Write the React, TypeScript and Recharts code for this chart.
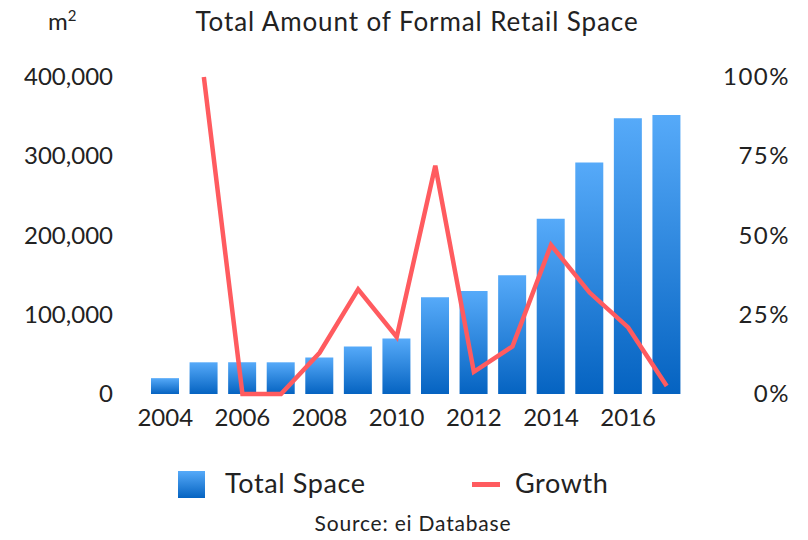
import React from 'react'
import {
    ComposedChart,
    Bar,
    Line,
    XAxis,
    YAxis
} from 'recharts'

const years = ['2004', '2005', '2006', '2007', '2008', '2009', '2010', '2011', '2012', '2013', '2014', '2015', '2016', '2017']
const totalSpace = [20000, 40000, 40000, 40000, 46000, 60000, 70000, 122000, 130000, 150000, 221000, 292000, 348000, 352000]
const growth = [null, 100, 0, 0, 13, 33, 18, 72, 7, 15, 47, 32, 21, 2.5]
const spaceTicks = [0, 100000, 200000, 300000, 400000]
const growthTicks = [0, 25, 50, 75, 100]
const seriesNames = ['Total Space', 'Growth']

const FONT = 'Lato, "Open Sans", sans-serif'
const TEXT = '#222'
const LINE = '#FF5B5F'

const data = years.map((y, i) => ({
    year: y,
    space: totalSpace[i],
    growth: growth[i]
}))

const LeftTick = ({ x, y, payload }: any) => (
    <text x={x - 25} y={y} dy={8} textAnchor="end" fontSize={24} fill={TEXT} fontFamily={FONT}>
        {payload.value === 0 ? '0' : payload.value.toLocaleString('en-US')}
    </text>
)

const RightTick = ({ x, y, payload }: any) => (
    <text x={x + 96} y={y} dy={8} textAnchor="end" fontSize={24} fill={TEXT} fontFamily={FONT} letterSpacing={1.5}>
        {payload.value}%
    </text>
)

const BottomTick = ({ x, y, payload }: any) => (
    <text x={x} y={y} dy={24} textAnchor="middle" fontSize={24} fill={TEXT} fontFamily={FONT}>
        {payload.value}
    </text>
)

export default function App() {
  return (
    <div style={{ position: 'absolute', left: 0, top: 0, width: 808, height: 540, background: '#fff', fontFamily: FONT, color: TEXT }}>
        <div style={{ position: 'absolute', left: 48, top: 6, fontSize: 24 }}>
            m<sup style={{ fontSize: 15 }}>2</sup>
        </div>
        <div style={{ position: 'absolute', left: 0, width: 834, top: 5, textAlign: 'center', fontSize: 26, letterSpacing: 0.9 }}>
            Total Amount of Formal Retail Space
        </div>

        <ComposedChart
        width={808}
        height={540}
        data={data}
        margin={{ top: 77, right: 0, left: 0, bottom: 106 }}
        >
            <defs>
                <linearGradient id="barFill" x1={0} y1={0} x2={0} y2={1}>
                    <stop offset="0%" stopColor="#56AAF9" />
                    <stop offset="100%" stopColor="#0563C1" />
                </linearGradient>
            </defs>

            <XAxis
            dataKey="year"
            height={40}
            axisLine={false}
            tickLine={false}
            interval={1}
            tick={<BottomTick />}
            />

            <YAxis
            yAxisId="left"
            width={146}
            domain={[0, 400000]}
            ticks={spaceTicks}
            axisLine={false}
            tickLine={false}
            tick={<LeftTick />}
            />

            <YAxis
            yAxisId="right"
            orientation="right"
            width={122}
            domain={[0, 100]}
            ticks={growthTicks}
            axisLine={false}
            tickLine={false}
            tick={<RightTick />}
            />

            <Bar
            yAxisId="left"
            dataKey="space"
            name={seriesNames[0]}
            fill="url(#barFill)"
            barSize={28}
            isAnimationActive={false}
            />

            <Line
            yAxisId="right"
            dataKey="growth"
            name={seriesNames[1]}
            stroke={LINE}
            strokeWidth={4.5}
            dot={false}
            activeDot={false}
            type="linear"
            isAnimationActive={false}
            />
        </ComposedChart>

        <div style={{ position: 'absolute', left: 178, top: 471, width: 27, height: 27, background: 'linear-gradient(#56AAF9, #0563C1)' }} />
        <div style={{ position: 'absolute', left: 225, top: 466, fontSize: 27, letterSpacing: 0.6 }}>{seriesNames[0]}</div>
        <div style={{ position: 'absolute', left: 472, top: 482, width: 28, height: 5, background: LINE }} />
        <div style={{ position: 'absolute', left: 515, top: 466, fontSize: 27, letterSpacing: 0.6 }}>{seriesNames[1]}</div>

        <div style={{ position: 'absolute', left: 0, width: 826, top: 510, textAlign: 'center', fontSize: 21, letterSpacing: 0.8 }}>
            Source: ei Database
        </div>
    </div>
  )
}
